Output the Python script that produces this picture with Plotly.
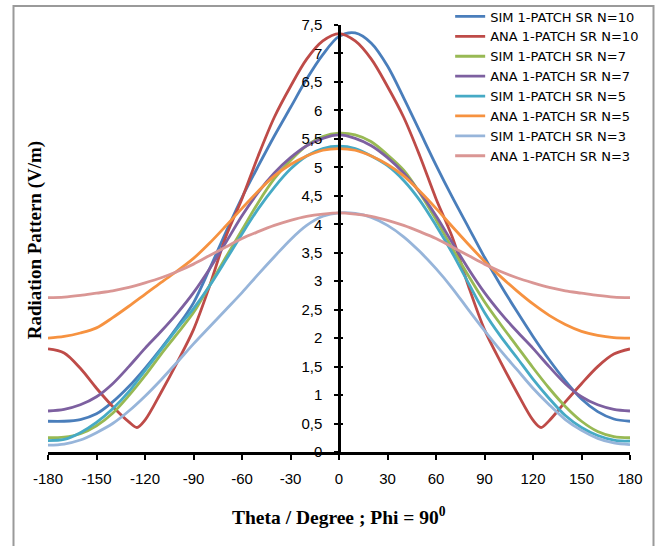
import plotly.graph_objects as go

THETA = [-180, -170, -160, -150, -140, -130, -120, -110, -100, -90, -80, -70, -60, -50, -40, -30, -20, -10,
         0, 10, 20, 30, 40, 50, 60, 70, 80, 90, 100, 110, 120, 130, 140, 150, 160, 170, 180]

THETA_ANA10 = [-180, -170, -160, -150, -140, -130, -125, -120, -110, -100, -90, -80, -70, -60, -50, -40, -30, -20, -10,
               0, 10, 20, 30, 40, 50, 60, 70, 80, 90, 100, 110, 120, 125, 130, 140, 150, 160, 170, 180]

SIM_N10 = [0.54, 0.54, 0.57, 0.67, 0.88, 1.15, 1.47, 1.82, 2.20, 2.62, 3.22, 3.86, 4.47, 5.02, 5.55, 6.05, 6.55, 6.98,
           7.30, 7.36, 7.18, 6.78, 6.22, 5.63, 5.04, 4.48, 3.95, 3.42, 2.93, 2.47, 2.03, 1.62, 1.25, 0.93, 0.71, 0.58, 0.54]

ANA_N10 = [1.81, 1.74, 1.47, 1.12, 0.80, 0.53, 0.43, 0.56, 1.05, 1.58, 2.15, 2.92, 3.78, 4.45, 5.20, 5.88, 6.42, 6.90, 7.22,
           7.35, 7.22, 6.90, 6.42, 5.88, 5.20, 4.45, 3.78, 2.92, 2.15, 1.58, 1.05, 0.56, 0.43, 0.55, 0.88, 1.20, 1.50, 1.72, 1.81]

SIM_N7 = [0.25, 0.26, 0.32, 0.46, 0.68, 0.99, 1.34, 1.72, 2.08, 2.45, 2.93, 3.42, 3.90, 4.38, 4.80, 5.12, 5.38, 5.54,
          5.60, 5.57, 5.45, 5.22, 4.95, 4.55, 4.08, 3.58, 3.10, 2.64, 2.24, 1.86, 1.48, 1.12, 0.80, 0.54, 0.36, 0.27, 0.25]

ANA_N7 = [0.72, 0.75, 0.83, 0.97, 1.20, 1.50, 1.82, 2.12, 2.44, 2.80, 3.22, 3.68, 4.15, 4.56, 4.90, 5.17, 5.38, 5.51,
          5.57, 5.51, 5.38, 5.17, 4.90, 4.56, 4.15, 3.68, 3.22, 2.80, 2.44, 2.12, 1.82, 1.50, 1.20, 0.97, 0.83, 0.75, 0.72]

SIM_N5 = [0.20, 0.22, 0.34, 0.52, 0.76, 1.06, 1.43, 1.80, 2.17, 2.52, 2.92, 3.37, 3.83, 4.27, 4.65, 4.97, 5.20, 5.33,
          5.37, 5.33, 5.20, 5.03, 4.77, 4.42, 3.98, 3.50, 2.97, 2.45, 2.03, 1.66, 1.28, 0.94, 0.64, 0.43, 0.29, 0.21, 0.19]

ANA_N5 = [2.00, 2.03, 2.09, 2.18, 2.36, 2.56, 2.77, 2.98, 3.18, 3.40, 3.67, 3.97, 4.28, 4.58, 4.85, 5.05, 5.20, 5.30,
          5.33, 5.30, 5.20, 5.05, 4.85, 4.58, 4.28, 3.96, 3.65, 3.35, 3.08, 2.83, 2.60, 2.40, 2.24, 2.12, 2.05, 2.01, 2.00]

SIM_N3 = [0.12, 0.14, 0.21, 0.34, 0.50, 0.72, 0.98, 1.27, 1.58, 1.90, 2.20, 2.50, 2.80, 3.12, 3.43, 3.73, 3.98, 4.14,
          4.20, 4.19, 4.12, 3.98, 3.78, 3.52, 3.22, 2.88, 2.50, 2.13, 1.78, 1.45, 1.12, 0.83, 0.57, 0.38, 0.24, 0.16, 0.13]

ANA_N3 = [2.71, 2.72, 2.75, 2.79, 2.83, 2.89, 2.97, 3.06, 3.17, 3.30, 3.45, 3.60, 3.75, 3.87, 3.98, 4.07, 4.14, 4.18,
          4.20, 4.18, 4.14, 4.07, 3.98, 3.87, 3.75, 3.60, 3.45, 3.30, 3.17, 3.06, 2.97, 2.89, 2.83, 2.79, 2.75, 2.72, 2.71]

SERIES = [
    ("SIM 1-PATCH SR N=10", THETA, SIM_N10, "#4A7EBB"),
    ("ANA 1-PATCH SR N=10", THETA_ANA10, ANA_N10, "#BE4B48"),
    ("SIM 1-PATCH SR N=7", THETA, SIM_N7, "#98B954"),
    ("ANA 1-PATCH SR N=7", THETA, ANA_N7, "#7D60A0"),
    ("SIM 1-PATCH SR N=5", THETA, SIM_N5, "#46AAC5"),
    ("ANA 1-PATCH SR N=5", THETA, ANA_N5, "#F69240"),
    ("SIM 1-PATCH SR N=3", THETA, SIM_N3, "#97B5DA"),
    ("ANA 1-PATCH SR N=3", THETA, ANA_N3, "#DA9694"),
]

X_TICKS = [-180, -150, -120, -90, -60, -30, 0, 30, 60, 90, 120, 150, 180]
X_TICK_LABELS = ["-180", "-150", "-120", "-90", "-60", "-30", "0", "30", "60", "90", "120", "150", "180"]
Y_TICKS = [0, 0.5, 1, 1.5, 2, 2.5, 3, 3.5, 4, 4.5, 5, 5.5, 6, 6.5, 7, 7.5]
Y_TICK_LABELS = ["0", "0,5", "1", "1,5", "2", "2,5", "3", "3,5", "4", "4,5", "5", "5,5", "6", "6,5", "7", "7,5"]

fig = go.Figure()
for name, xs, ys, color in SERIES:
    fig.add_trace(go.Scatter(
        x=xs, y=ys, name=name, mode="lines",
        line=dict(color=color, width=2.8, shape="spline", smoothing=0.9),
    ))

W, H = 659, 546
L, R, T, B = 48, 29, 25, 93.5
fig.update_layout(
    width=W, height=H,
    margin=dict(l=L, r=R, t=T, b=B, autoexpand=False),
    paper_bgcolor="white", plot_bgcolor="white",
    showlegend=True,
    legend=dict(
        x=0.691, y=1.055, xanchor="left", yanchor="top",
        font=dict(family="DejaVu Sans", size=13, color="#000"),
        bgcolor="rgba(255,255,255,0)", tracegroupgap=0,
    ),
    xaxis=dict(
        range=[-180, 180], tickvals=X_TICKS, ticktext=X_TICK_LABELS,
        showgrid=False, zeroline=False, automargin=False,
        showline=True, linecolor="black", linewidth=2.5,
        ticks="outside", ticklen=5, tickwidth=2, tickcolor="black",
        ticklabelstandoff=6,
        tickfont=dict(family="Liberation Sans", size=15, color="#000"),
        anchor="y",
    ),
    yaxis=dict(
        range=[0, 7.5], tickvals=Y_TICKS, ticktext=Y_TICK_LABELS,
        showgrid=False, zeroline=False, automargin=False,
        showline=True, linecolor="black", linewidth=2.5,
        ticks="outside", ticklen=4, tickwidth=2, tickcolor="black",
        ticklabelstandoff=9,
        tickfont=dict(family="Liberation Sans", size=15, color="#000"),
        anchor="free", position=0.5,
    ),
    yaxis2=dict(
        range=[0, 7.5], tickvals=Y_TICKS, overlaying="y", anchor="free", position=0.5,
        showgrid=False, zeroline=False, showline=False, showticklabels=False, automargin=False,
        ticks="inside", ticklen=3, tickwidth=2, tickcolor="black",
    ),
)

# invisible trace to activate the crossing tick axis
fig.add_trace(go.Scatter(x=[0], y=[0], yaxis="y2", mode="markers", marker=dict(opacity=0),
                         showlegend=False, hoverinfo="skip"))

fig.add_annotation(
    text="<b>Radiation Pattern (V/m)</b>", textangle=-90,
    xref="paper", yref="paper", x=-0.0232, y=0.497, xanchor="center", yanchor="middle",
    showarrow=False, font=dict(family="Liberation Serif", size=19, color="#000"),
)
fig.add_annotation(
    text="<b>Theta / Degree ; Phi = 90<sup>0</sup></b>",
    xref="paper", yref="paper", x=0.5, y=-0.149, xanchor="center", yanchor="middle",
    showarrow=False, font=dict(family="Liberation Serif", size=19.5, color="#000"),
)

# chart area border
pw, ph = W - L - R, H - T - B
fig.add_shape(
    type="rect", xref="paper", yref="paper", layer="below",
    x0=(13.5 - L) / pw, x1=(653.5 - L) / pw,
    y0=(H - B - 560) / ph, y1=(H - B - 6) / ph,
    line=dict(color="#9a9a9a", width=2), fillcolor="rgba(0,0,0,0)",
)

fig.write_html("out.html", config={"displayModeBar": False},
               post_script="document.body.style.margin='0';")
